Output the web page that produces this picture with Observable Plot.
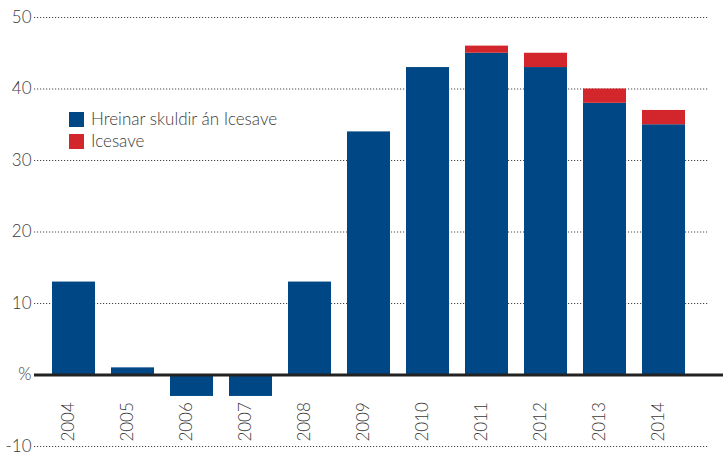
<!DOCTYPE html>
<html>
<head>
<meta charset="utf-8">
<script src="https://cdn.jsdelivr.net/npm/d3@7"></script>
<script src="https://cdn.jsdelivr.net/npm/@observablehq/plot@0.6"></script>
<style>
  html, body { margin: 0; padding: 0; background: #fff; }
  #wrap { position: relative; width: 723px; height: 458px; font-family: Lato, sans-serif; }
  #legend { position: absolute; left: 69px; top: 108px; font-size: 17px; color: #3a3a3a; font-weight: 300; line-height: 22px; }
  #legend .item { display: flex; align-items: center; }
  #legend .sw { width: 15px; height: 15px; margin-right: 7px; }
</style>
</head>
<body>
<div id="wrap"><div id="legend"></div></div>
<script>
const years = ["2004","2005","2006","2007","2008","2009","2010","2011","2012","2013","2014"];
const netDebt = [13, 1, -3, -3, 13, 34, 43, 45, 43, 38, 35];
const icesave = [0, 0, 0, 0, 0, 0, 0, 1, 2, 2, 2];
const seriesNames = ["Hreinar skuldir án Icesave", "Icesave"];
const seriesColors = ["#004785", "#d2262c"];
const yTicks = [-10, 0, 10, 20, 30, 40, 50];

const data = [];
years.forEach((y, i) => {
  data.push({year: y, series: seriesNames[0], value: netDebt[i]});
  data.push({year: y, series: seriesNames[1], value: icesave[i]});
});

const font = "Lato, sans-serif";
const chart = Plot.plot({
  width: 723,
  height: 458,
  marginLeft: 34,
  marginRight: 15,
  marginTop: 17,
  marginBottom: 12,
  style: {fontFamily: font, fontSize: "17px", color: "#3a3a3a", background: "transparent"},
  x: {domain: years, paddingInner: 0.27, paddingOuter: 0.33, align: 0.45, axis: null},
  y: {domain: [-10, 50], axis: null},
  color: {domain: seriesNames, range: seriesColors},
  marks: [
    Plot.gridY(yTicks, {stroke: "#333", strokeOpacity: 0.9, strokeDasharray: "1.2,1.8", strokeWidth: 1}),
    Plot.barY(data, {x: "year", y: "value", fill: "series", order: seriesNames}),
    Plot.ruleY([0], {stroke: "#222", strokeWidth: 3, insetRight: -15}),
    Plot.axisY(yTicks, {label: null, tickSize: 0, tickPadding: 3, fontWeight: 300, fontSize: 17, fill: "#3a3a3a",
      tickFormat: d => d === 0 ? "%" : String(d)}),
    Plot.text(years, {x: d => d, y: -3.8, text: d => d, rotate: -90, textAnchor: "end",
      lineAnchor: "middle", dx: -5, fontSize: 17, fontWeight: 300, fill: "#3a3a3a"})
  ]
});
const wrap = document.getElementById("wrap");
wrap.insertBefore(chart, wrap.firstChild);
chart.style.position = "absolute"; chart.style.left = "0"; chart.style.top = "0";

const legend = document.getElementById("legend");
seriesNames.forEach((n, i) => {
  const it = document.createElement("div");
  it.className = "item";
  const sw = document.createElement("span");
  sw.className = "sw"; sw.style.background = seriesColors[i];
  const t = document.createElement("span");
  t.textContent = n;
  it.appendChild(sw); it.appendChild(t);
  legend.appendChild(it);
});
</script>
</body>
</html>
